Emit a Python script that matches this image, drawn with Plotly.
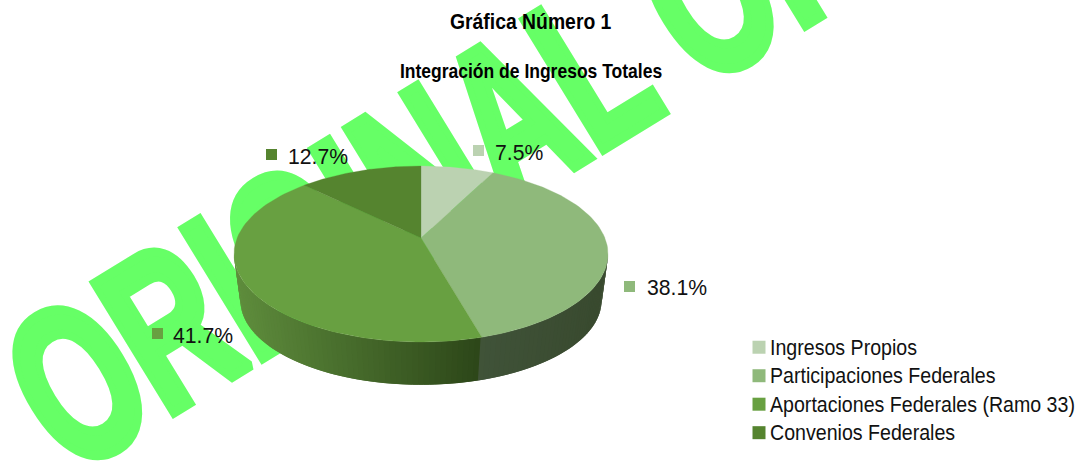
import numpy as np
import plotly.graph_objects as go

categories = ["Ingresos Propios", "Participaciones Federales", "Aportaciones Federales (Ramo 33)", "Convenios Federales"]
shares = [7.5, 38.1, 41.7, 12.7]
face_colors = ["#BBD2B1", "#8FB97B", "#68A041", "#55842F"]
title_text = "Gráfica Número 1"
subtitle_text = "Integración de Ingresos Totales"
watermark_text = "ORIGINAL OR"
FONT = "Liberation Sans"

swatch_x = [478.5, 629.5, 157.5, 271.5]
swatch_y = [150.5, 286.5, 333.5, 154.5]
label_x = [495, 647, 173, 288]
label_y = [155, 290, 338, 159]

CX = 421
def top_rim(t):
    d = 1 + 0.1818 * np.cos(t)
    return CX + 183.9 * np.sin(t) / d, 238 - 85.1 * np.cos(t) / d

def bottom_rim(t):
    d = 1 + 0.17 * np.cos(t)
    return CX + 178 * np.sin(t) / d, 286 - 82 * np.cos(t) / d

def lerp(a, b, u):
    u = min(max(u, 0), 1)
    return "rgb(%d,%d,%d)" % tuple(round(a[i] + (b[i] - a[i]) * u) for i in range(3))

fig = go.Figure()

fig.add_trace(go.Scatter(x=[100], y=[440], mode="text", text=[watermark_text], textposition="middle right",
                         textfont=dict(family=FONT, size=220, color="#66FF66", weight="bold"), cliponaxis=False,
                         showlegend=False, hoverinfo="skip"))

edges = np.cumsum([0] + shares) / 100 * 2 * np.pi
split = edges[2]
ts = np.radians(np.linspace(99.5, 260.5, 110))
for k in range(len(ts) - 1):
    a = ts[k]
    b = ts[min(k + 2, len(ts) - 1)]
    xa, ya = top_rim(a); xb, yb = top_rim(b)
    xc, yc = bottom_rim(b); xd, yd = bottom_rim(a)
    if a < split:
        col = lerp((0x39, 0x4A, 0x2F), (0x40, 0x53, 0x39), (600 - xa) / 120)
    else:
        col = lerp((0x5E, 0x8C, 0x3C), (0x2D, 0x47, 0x19), (xa - 238) / 243)
    fig.add_trace(go.Scatter(x=[xa, xb, xc, xd, xa], y=[ya, yb, yc, yd, ya], mode="lines", fill="toself",
                             fillcolor=col, line=dict(width=0), showlegend=False, hoverinfo="skip"))

for i, name in enumerate(categories):
    t = np.linspace(edges[i], edges[i + 1], 80)
    x, y = top_rim(t)
    fig.add_trace(go.Scatter(x=np.r_[CX, x, CX], y=np.r_[238, y, 238], mode="lines", fill="toself",
                             fillcolor=face_colors[i], line=dict(color=face_colors[i], width=0.3),
                             name=name, showlegend=False, hoverinfo="skip"))

for i, name in enumerate(categories):
    fig.add_trace(go.Scatter(x=[swatch_x[i]], y=[swatch_y[i]], mode="markers",
                             marker=dict(symbol="square", size=11, color=face_colors[i]),
                             showlegend=False, hoverinfo="skip"))
    fig.add_trace(go.Scatter(x=[label_x[i]], y=[label_y[i]], mode="text", text=[f"{shares[i]}%"],
                             textposition="middle right", textfont=dict(family=FONT, size=21.2, color="#111111"),
                             showlegend=False, hoverinfo="skip", cliponaxis=False))

for i, name in enumerate(categories):
    fig.add_trace(go.Scatter(x=[None], y=[None], mode="markers", name=name,
                             marker=dict(symbol="square", size=13, color=face_colors[i])))

fig.update_layout(
    width=1081, height=462, margin=dict(l=0, r=0, t=0, b=0, autoexpand=False),
    paper_bgcolor="white", plot_bgcolor="white",
    xaxis=dict(range=[0, 1081], visible=False, domain=[0, 1]),
    yaxis=dict(range=[462, 0], visible=False, domain=[0, 1]),
    showlegend=True,
    legend=dict(x=730 / 1081, y=1 - 328 / 462, xanchor="left", yanchor="top", bgcolor="rgba(0,0,0,0)",
                font=dict(family=FONT, size=19.6, color="#111111"), traceorder="normal", borderwidth=0),
    annotations=[
        dict(text=f"<b>{title_text}</b>", x=530, y=21.7, xref="x", yref="y", showarrow=False,
             font=dict(family=FONT, size=22, color="#000000")),
        dict(text=f"<b>{subtitle_text}</b>", x=531, y=71.3, xref="x", yref="y", showarrow=False,
             font=dict(family=FONT, size=19.9, color="#000000")),
    ],
)

post = """
document.body.style.margin='0';document.body.style.overflow='hidden';
var t=document.querySelector('.scatterlayer .trace .textpoint text');
t.parentNode.removeAttribute('transform');
t.setAttribute('x',0);t.setAttribute('y',0);t.setAttribute('text-anchor','start');
t.setAttribute('transform','translate(69.4,476.5) rotate(-31.5) scale(0.654,1)');
t.style.stroke='#66FF66';t.style.strokeWidth='10px';t.style.strokeLinejoin='miter';
t.querySelectorAll('tspan').forEach(function(s){s.setAttribute('x',0);s.setAttribute('y',0);});
document.querySelectorAll('g.legendpoints').forEach(function(g){g.setAttribute('transform','translate(9,0)');});
function sq(el,sx,sy){var x=+el.getAttribute('x')||0,y=+el.getAttribute('y')||0;
 el.setAttribute('transform','translate('+x+','+y+') scale('+sx+','+sy+') translate('+(-x)+','+(-y)+')');}
document.querySelectorAll('text.legendtext').forEach(function(e){sq(e,1,1.13);});
document.querySelectorAll('text.annotation-text').forEach(function(e){sq(e,0.88,1);});
"""
fig.write_html("out.html", post_script=post, config=dict(displayModeBar=False))
